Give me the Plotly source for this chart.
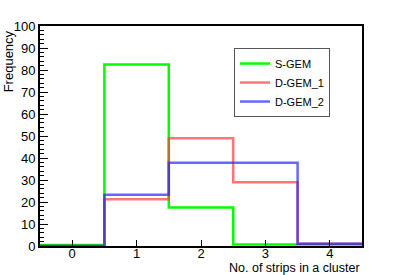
import plotly.graph_objects as go

# Bin edges (number of strips per cluster) and per-bin frequencies
bin_edges = [-0.5, 0.5, 1.5, 2.5, 3.5, 4.5]
s_gem = [0.5, 82.5, 17.5, 0.7, 0.7]
d_gem_1 = [0.0, 21.3, 49.0, 29.0, 1.0]
d_gem_2 = [0.0, 23.3, 37.8, 37.8, 1.0]

series = [
    ("S-GEM", s_gem, "rgb(0,255,0)", 1.0),
    ("D-GEM_1", d_gem_1, "rgb(255,60,60)", 0.7),
    ("D-GEM_2", d_gem_2, "rgb(40,40,255)", 0.7),
]

fig = go.Figure()
for name, vals, col, op in series:
    fig.add_trace(go.Scatter(
        x=bin_edges,
        y=vals + [vals[-1]],
        mode="lines",
        line=dict(shape="hv", color=col, width=2.5),
        opacity=op,
        name=name,
    ))

font = "Liberation Sans, Arial, sans-serif"
fig.update_layout(
    width=403, height=275,
    margin=dict(l=40, r=41, t=26, b=29, autoexpand=False),
    paper_bgcolor="white", plot_bgcolor="white",
    font=dict(family=font, size=13, color="black"),
    showlegend=True,
    legend=dict(
        x=0.7516, y=0.743, xanchor="center", yanchor="middle",
        bgcolor="white", bordercolor="#555", borderwidth=1,
        font=dict(size=11), itemwidth=30, tracegroupgap=0,
    ),
    xaxis=dict(
        range=[-0.5, 4.5], tickmode="linear", tick0=0, dtick=1,
        ticks="inside", ticklen=6, tickwidth=1, tickcolor="black",
        showline=True, linecolor="black", linewidth=2, mirror=True,
        showgrid=False, zeroline=False, automargin=False,
        ticklabelstandoff=-6,
        tickfont=dict(size=13),
    ),
    yaxis=dict(
        range=[0, 100], tickmode="linear", tick0=0, dtick=10,
        ticks="inside", ticklen=8, tickwidth=1, tickcolor="black",
        minor=dict(dtick=2, ticks="inside", ticklen=4, tickcolor="black", tickwidth=1),
        showline=True, linecolor="black", linewidth=2, mirror=True,
        showgrid=False, zeroline=False, automargin=False,
        tickfont=dict(size=13),
    ),
    annotations=[
        dict(text="Frequency", textangle=-90, xref="paper", yref="paper",
             x=-0.099, y=0.99, xanchor="center", yanchor="top",
             showarrow=False, font=dict(size=13)),
        dict(text="No. of strips in a cluster", xref="paper", yref="paper",
             x=1.0, y=-0.102, xanchor="right", yanchor="middle",
             showarrow=False, font=dict(size=12.5)),
    ],
)

fig.write_html(
    "out.html",
    config={"displayModeBar": False},
    post_script="document.body.style.margin='0';document.body.style.padding='0';",
)
